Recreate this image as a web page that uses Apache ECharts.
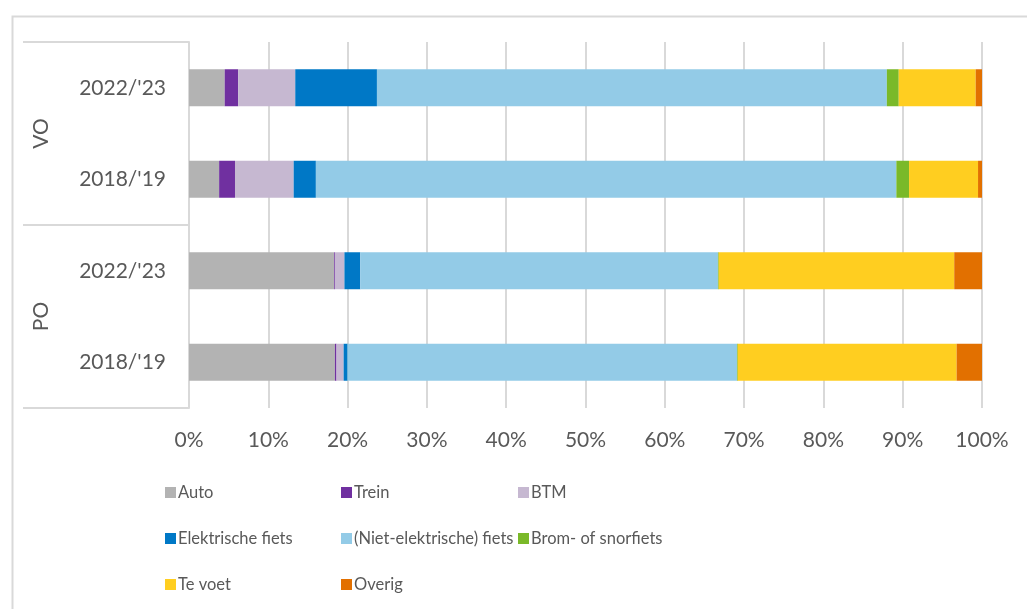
<!DOCTYPE html>
<html>
<head>
<meta charset="utf-8">
<style>
  html, body { margin: 0; padding: 0; background: #ffffff; }
  #chart { width: 1027px; height: 609px; }
</style>
<script src="https://cdn.jsdelivr.net/npm/echarts@6/dist/echarts.min.js"></script>
</head>
<body>
<div id="chart"></div>
<script>
// Bars, bottom to top: PO 2018/'19, PO 2022/'23, VO 2018/'19, VO 2022/'23
const groups = ['PO', 'VO'];
const years = ["2018/'19", "2022/'23", "2018/'19", "2022/'23"];
const xTicks = [0, 10, 20, 30, 40, 50, 60, 70, 80, 90, 100];

// Share of trips per mode (%)
const auto       = [18.4, 18.3, 3.8, 4.5];
const trein      = [0.2, 0.1, 2.0, 1.7];
const btm        = [0.9, 1.2, 7.4, 7.2];
const eFiets     = [0.5, 2.0, 2.8, 10.3];
const fiets      = [49.1, 45.1, 73.2, 64.3];
const brom       = [0.1, 0.1, 1.6, 1.5];
const teVoet     = [27.6, 29.7, 8.7, 9.7];
const overig     = [3.2, 3.7, 0.5, 0.8];

const seriesDefs = [
  ['Auto', auto, '#b3b3b3'],
  ['Trein', trein, '#7030a0'],
  ['BTM', btm, '#c6b8d1'],
  ['Elektrische fiets', eFiets, '#0078c6'],
  ['(Niet-elektrische) fiets', fiets, '#93cbe7'],
  ['Brom- of snorfiets', brom, '#7ab929'],
  ['Te voet', teVoet, '#ffce20'],
  ['Overig', overig, '#e27000']
];

const font = 'Lato, "Liberation Sans", sans-serif';
const textColor = '#595959';
const lineColor = '#d9d9d9';

const chart = echarts.init(document.getElementById('chart'), null, { renderer: 'canvas' });

const keys = years.map((y, i) => i + '|' + y);

const legendStyle = {
  orient: 'vertical',
  top: 479,
  itemWidth: 11,
  itemHeight: 11,
  itemGap: 29,
  icon: 'rect',
  textStyle: { fontFamily: font, fontSize: 16.5, color: textColor, padding: [0, 0, 0, -3] }
};

chart.setOption({
  animation: false,
  backgroundColor: '#ffffff',
  grid: { left: 189, right: 45, top: 42, bottom: 201, containLabel: false },
  xAxis: {
    type: 'value',
    min: 0,
    max: 100,
    interval: 10,
    axisLine: { show: false },
    axisTick: { show: false },
    splitLine: { show: true, lineStyle: { color: lineColor, width: 2 } },
    axisLabel: {
      margin: 22,
      fontFamily: font,
      fontSize: 21,
      color: textColor,
      formatter: v => (xTicks.indexOf(v) >= 0 ? v + '%' : '')
    }
  },
  yAxis: [
    {
      type: 'category',
      data: keys,
      axisLine: { show: true, lineStyle: { color: lineColor, width: 2 } },
      axisTick: { show: false },
      axisLabel: {
        margin: 23,
        fontFamily: font,
        fontSize: 21,
        color: textColor,
        formatter: v => v.split('|')[1]
      }
    },
    {
      type: 'category',
      position: 'left',
      data: groups,
      axisLine: { show: false },
      axisTick: { show: true, length: 166, lineStyle: { color: lineColor, width: 2 } },
      axisLabel: {
        rotate: 90,
        margin: 137,
        fontFamily: font,
        fontSize: 21,
        color: textColor
      }
    }
  ],
  legend: [
    Object.assign({ left: 160, data: ['Auto', 'Elektrische fiets', 'Te voet'] }, legendStyle),
    Object.assign({ left: 336, data: ['Trein', '(Niet-elektrische) fiets', 'Overig'] }, legendStyle),
    Object.assign({ left: 513, data: ['BTM', 'Brom- of snorfiets'] }, legendStyle)
  ],
  graphic: [
    {
      type: 'rect',
      left: 10,
      top: 14,
      shape: { width: 1200, height: 800 },
      style: { fill: 'none', stroke: lineColor, lineWidth: 2 },
      silent: true
    }
  ],
  series: seriesDefs.map(([name, values, color]) => ({
    name: name,
    type: 'bar',
    stack: 'total',
    yAxisIndex: 0,
    barWidth: 37,
    data: values,
    itemStyle: { color: color },
    emphasis: { disabled: true }
  }))
});
</script>
</body>
</html>
